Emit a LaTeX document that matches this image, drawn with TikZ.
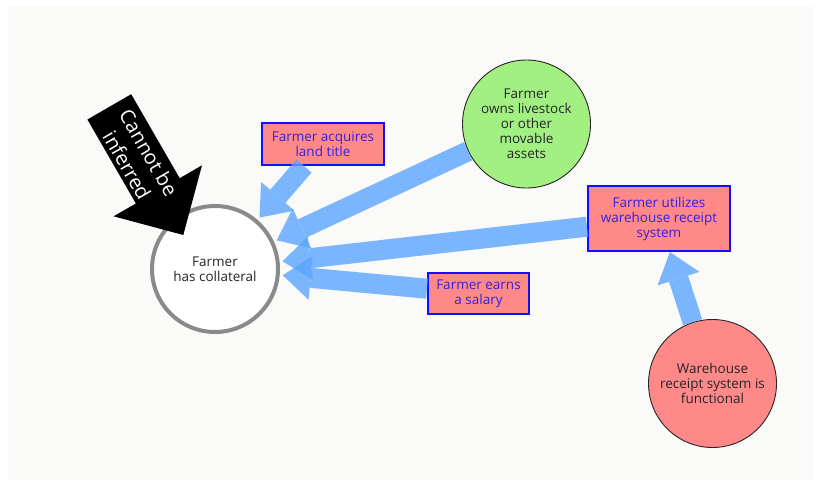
\documentclass[tikz,border=0pt]{standalone}
\usepackage{fontspec}
\setmainfont{Open Sans}
\usetikzlibrary{arrows.meta}

\definecolor{bgcol}{HTML}{FAFAF8}
\definecolor{flowblue}{HTML}{5CA4FF}
\definecolor{boxpink}{HTML}{FF8888}
\definecolor{boxline}{HTML}{1010FF}
\definecolor{boxtext}{HTML}{3322DD}
\definecolor{leafgreen}{HTML}{A2F082}
\definecolor{ringgray}{HTML}{8A8A8A}

\tikzset{
  txt/.style={font=\fontsize{13.5pt}{15pt}\selectfont, align=center},
  factbox/.style={txt, rectangle, fill=boxpink, draw=boxline, line width=2pt,
                  text=boxtext, inner sep=0pt},
  factcircle/.style={txt, circle, draw=black!85, line width=0.9pt,
                     minimum size=128pt, inner sep=0pt, text=black!85},
  fatarrow/.style={draw=flowblue, line width=20pt,
                   -{Triangle[length=28pt,width=44pt,line width=0pt]}},
  flowlayer/.style={transparency group, opacity=0.8},
}

\begin{document}
\begin{tikzpicture}[x=1pt,y=-1pt]
  % canvas and page frame
  \useasboundingbox (0,0) rectangle (821,487);
  \fill[bgcol] (8,6) rectangle (813,480);

  % outcome
  \node[txt, circle, fill=white, draw=ringgray, line width=4pt,
        minimum size=126pt, inner sep=0pt, outer sep=5pt, text=black!85]
        (coll) at (215,269) {Farmer\\has collateral};

  % contributing facts
  \node[factbox, minimum width=122pt, minimum height=42pt]
        (land) at (323,144) {Farmer acquires\\land title};
  \node[factcircle, fill=leafgreen]
        (stock) at (526.5,124) {Farmer\\owns livestock\\or other\\movable\\assets};
  \node[factbox, minimum width=142pt, minimum height=65pt]
        (wrs) at (659,218.5) {Farmer utilizes\\warehouse receipt\\system};
  \node[factbox, minimum width=101pt, minimum height=41pt]
        (salary) at (478.5,293.5) {Farmer earns\\a salary};
  \node[factcircle, fill=boxpink]
        (func) at (712.5,383.5) {Warehouse\\receipt system is\\functional};

  % influence arrows, each one translucent as a whole
  \begin{scope}[flowlayer]\draw[fatarrow] (land) -- (coll);\end{scope}
  \begin{scope}[flowlayer]\draw[fatarrow] (stock) -- (coll);\end{scope}
  \begin{scope}[flowlayer]\draw[fatarrow] (wrs) -- (coll);\end{scope}
  \begin{scope}[flowlayer]\draw[fatarrow] (salary) -- (coll);\end{scope}
  \begin{scope}[flowlayer]\draw[fatarrow] (func) -- (wrs);\end{scope}

  % black block arrow with its caption
  \fill[black] (87.4,119.5) -- (131.2,94.2) -- (179.7,178.2) -- (202,165.3)
     -- (183.3,235) -- (113.6,216.3) -- (135.9,203.5) -- cycle;
  \node[font=\fontsize{20pt}{25pt}\selectfont, align=center, text=white,
        rotate=-60, inner sep=0pt] (cannot) at (138,159) {Cannot be\\inferred};
\end{tikzpicture}
\end{document}
